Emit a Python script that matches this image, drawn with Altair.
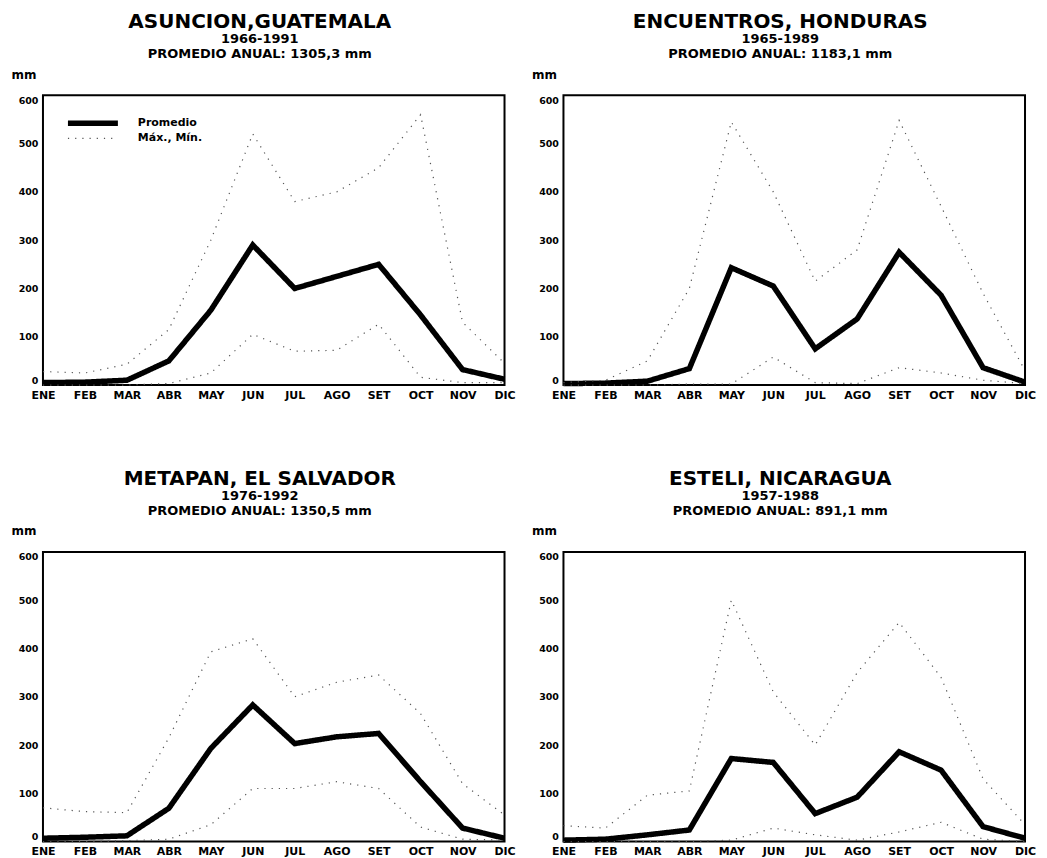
import altair as alt
import pandas as pd

meses = ["ENE", "FEB", "MAR", "ABR", "MAY", "JUN", "JUL", "AGO", "SET", "OCT", "NOV", "DIC"]

titulos = ["ASUNCION,GUATEMALA", "ENCUENTROS, HONDURAS", "METAPAN, EL SALVADOR", "ESTELI, NICARAGUA"]
periodos = ["1966-1991", "1965-1989", "1976-1992", "1957-1988"]
anuales = ["PROMEDIO ANUAL: 1305,3 mm", "PROMEDIO ANUAL: 1183,1 mm",
           "PROMEDIO ANUAL: 1350,5 mm", "PROMEDIO ANUAL: 891,1 mm"]

# Asuncion, Guatemala
prom_asuncion = [5, 6, 10, 50, 155, 290, 200, 225, 250, 145, 32, 12]
max_asuncion = [28, 25, 43, 115, 300, 520, 380, 400, 450, 560, 130, 45]
min_asuncion = [0, 0, 0, 3, 25, 105, 70, 72, 126, 16, 5, 5]

# Encuentros, Honduras
prom_encuentros = [3, 4, 8, 34, 243, 205, 75, 137, 275, 186, 36, 6]
max_encuentros = [5, 10, 50, 200, 545, 400, 215, 280, 548, 370, 190, 30]
min_encuentros = [0, 0, 0, 2, 2, 58, 5, 3, 36, 25, 10, 3]

# Metapan, El Salvador
prom_metapan = [7, 9, 12, 69, 193, 283, 203, 217, 224, 124, 28, 7]
max_metapan = [70, 62, 60, 215, 393, 420, 300, 330, 345, 265, 120, 55]
min_metapan = [0, 0, 2, 5, 35, 110, 110, 124, 110, 30, 5, 3]

# Esteli, Nicaragua
prom_esteli = [3, 5, 14, 24, 172, 164, 58, 92, 186, 148, 31, 7]
max_esteli = [33, 28, 96, 105, 500, 310, 200, 350, 454, 340, 130, 35]
min_esteli = [0, 0, 0, 0, 3, 28, 14, 3, 20, 40, 5, 0]

estaciones = [
    (prom_asuncion, max_asuncion, min_asuncion),
    (prom_encuentros, max_encuentros, min_encuentros),
    (prom_metapan, max_metapan, min_metapan),
    (prom_esteli, max_esteli, min_esteli),
]

SERIES = ["Promedio", "Máx., Mín."]
FONT = "DejaVu Sans"
DASH = alt.Scale(domain=SERIES, range=[[1, 0], [1.2, 6]])
WIDTH = alt.Scale(domain=SERIES, range=[5.5, 1.2])
COLOR = alt.Scale(domain=SERIES, range=["#000000", "#555555"])


def tabla(prom, mx, mn):
    filas = []
    for nombre, serie, vals in [("prom", SERIES[0], prom), ("max", SERIES[1], mx), ("min", SERIES[1], mn)]:
        for i, (m, v) in enumerate(zip(meses, vals)):
            filas.append({"mes": m, "idx": i, "valor": v, "serie": serie, "linea": nombre})
    return pd.DataFrame(filas)


def leyenda():
    capas = []
    for j, s in enumerate(SERIES):
        d = pd.DataFrame({"serie": [s]})
        yy = 28 + 15 * j
        muestra = alt.Chart(d).mark_rule(strokeCap="butt").encode(
            x=alt.value(25), x2=alt.value(75), y=alt.value(yy),
            strokeDash=alt.StrokeDash("serie:N", scale=DASH, legend=None),
            strokeWidth=alt.StrokeWidth("serie:N", scale=WIDTH, legend=None),
            color=alt.Color("serie:N", scale=COLOR, legend=None),
        )
        texto = alt.Chart(d).mark_text(
            align="left", baseline="middle", font=FONT, fontWeight="bold", fontSize=11, color="black"
        ).encode(x=alt.value(95), y=alt.value(yy), text="serie:N")
        capas += [muestra, texto]
    return capas


def panel(k, con_leyenda):
    prom, mx, mn = estaciones[k]
    df = tabla(prom, mx, mn)
    lineas = alt.Chart(df).mark_line(strokeJoin="miter", strokeCap="butt").encode(
        x=alt.X("mes:O", sort=meses, title=None,
                scale=alt.Scale(type="point", padding=0),
                axis=alt.Axis(labelAngle=0, labelPadding=4, labelFontSize=11)),
        y=alt.Y("valor:Q", scale=alt.Scale(domain=[0, 600], nice=False),
                axis=alt.Axis(values=[0, 100, 200, 300, 400, 500, 600], labelFontSize=9.5,
                              labelPadding=5, labelFlush=True,
                              title="mm", titleAngle=0, titleAlign="left",
                              titleBaseline="bottom", titleX=-32, titleY=-14,
                              titleFont=FONT, titleFontWeight="bold", titleFontSize=12)),
        detail="linea:N",
        order="idx:Q",
        strokeDash=alt.StrokeDash("serie:N", scale=DASH, legend=None),
        strokeWidth=alt.StrokeWidth("serie:N", scale=WIDTH, legend=None),
        color=alt.Color("serie:N", scale=COLOR, legend=None),
    )
    capas = [lineas] + (leyenda() if con_leyenda else [])
    return alt.layer(*capas).properties(
        width=462, height=290,
        title=alt.TitleParams(text=titulos[k], subtitle=[periodos[k], anuales[k]], dx=-14),
    )


chart = alt.concat(
    panel(0, True), panel(1, False), panel(2, False), panel(3, False),
    columns=2, spacing={"row": 67, "column": 14},
).properties(
    padding={"left": 2, "top": 3, "right": 2, "bottom": 0},
    background="white",
).configure_view(
    stroke="black", strokeWidth=2
).configure_axis(
    labelFont=FONT, labelFontWeight="bold", labelColor="black",
    ticks=False, grid=False, domain=False,
).configure_title(
    font=FONT, fontWeight="bold", fontSize=20, color="black", anchor="middle",
    subtitleFont=FONT, subtitleFontWeight="bold", subtitleFontSize=13,
    subtitleColor="black", subtitlePadding=1, offset=7,
)

chart.save("out.html", embed_options={"renderer": "svg", "actions": False})
